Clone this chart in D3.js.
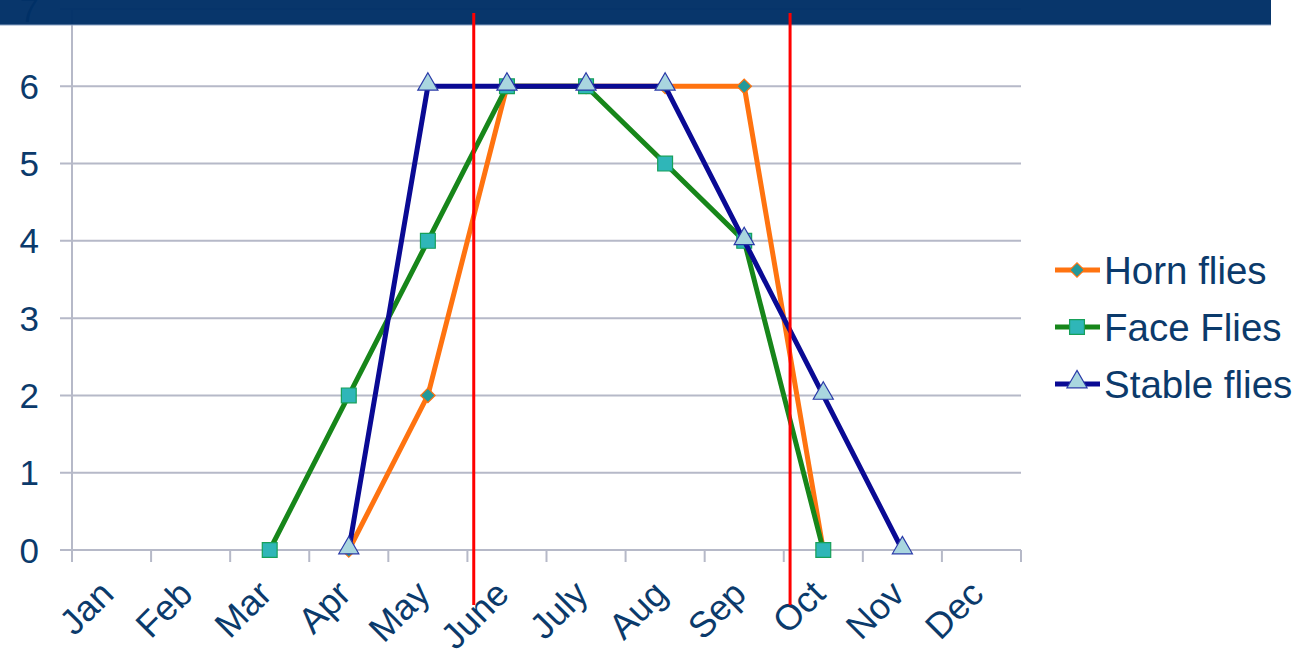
<!DOCTYPE html>
<html>
<head>
<meta charset="utf-8">
<script src="https://cdn.jsdelivr.net/npm/d3@7"></script>
<style>
  body { margin: 0; background: #fff; }
  text { font-family: "Liberation Sans", Arial, sans-serif; }
</style>
</head>
<body>
<div id="chart"></div>
<script>
// Data
var months = ["Jan", "Feb", "Mar", "Apr", "May", "June", "July", "Aug", "Sep", "Oct", "Nov", "Dec"];
var yTicks = [0, 1, 2, 3, 4, 5, 6, 7];
var hornFlies = [null, null, null, 0, 2, 6, 6, 6, 6, 0, null, null];
var faceFlies = [null, null, 0, 2, 4, 6, 6, 5, 4, 0, null, null];
var stableFlies = [null, null, null, 0, 6, 6, 6, 6, 4, 2, 0, null];
var seriesNames = ["Horn flies", "Face Flies", "Stable flies"];
// red marker lines, in month index units (Jan = 0)
var redLineMonths = [4.58, 8.58];

var width = 1307, height = 660;
var margin = {top: 9, left: 72, bottom: 110, right: 286};

var svg = d3.select("#chart")
  .append("svg")
    .attr("width", width)
    .attr("height", height);

// Scales
var x = d3.scaleBand()
    .domain(months)
    .range([margin.left, width - margin.right])
    .padding(0);
var y = d3.scaleLinear()
    .domain([0, 7])
    .range([height - margin.bottom, margin.top]);
// month index -> pixel (band centres)
var xIdx = d3.scaleLinear()
    .domain([0, 11])
    .range([x(months[0]) + x.bandwidth() / 2, x(months[11]) + x.bandwidth() / 2]);

var textColor = "#0b3a6b";
var gridColor = "#b6b9c8";

// gridlines
svg.selectAll(".hline")
  .data(yTicks)
  .enter()
    .append("line")
    .attr("class", "hline")
    .attr("x1", margin.left - 12)
    .attr("x2", width - margin.right)
    .attr("y1", function(d) { return y(d); })
    .attr("y2", function(d) { return y(d); })
    .style("stroke", gridColor)
    .style("stroke-width", 2);

// y axis line
svg.append("line")
  .attr("x1", margin.left).attr("x2", margin.left)
  .attr("y1", y(7)).attr("y2", y(0))
  .style("stroke", gridColor)
  .style("stroke-width", 2);

// x ticks at band edges
var edges = months.map(function(m) { return x(m); }).concat([x(months[11]) + x.bandwidth()]);
svg.selectAll(".xtick")
  .data(edges)
  .enter()
    .append("line")
    .attr("x1", function(d) { return d; })
    .attr("x2", function(d) { return d; })
    .attr("y1", y(0))
    .attr("y2", y(0) + 12)
    .style("stroke", gridColor)
    .style("stroke-width", 2);

// y labels
svg.selectAll(".ylab")
  .data(yTicks)
  .enter()
    .append("text")
    .attr("x", 39)
    .attr("y", function(d) { return y(d); })
    .attr("dy", "0.36em")
    .style("text-anchor", "end")
    .style("font-size", "35px")
    .style("fill", textColor)
    .text(function(d) { return d; });

// x labels, rotated
svg.selectAll(".xlab")
  .data(months)
  .enter()
    .append("text")
    .attr("transform", function(d) {
      return "translate(" + (x(d) + x.bandwidth() / 2 + 4) + "," + (y(0) + 46) + ") rotate(-45)";
    })
    .style("text-anchor", "end")
    .style("font-size", "36px")
    .style("fill", textColor)
    .text(function(d) { return d; });

var series = [
  {name: seriesNames[0], values: hornFlies, color: "#ff7310", marker: "diamond", fill: "#24999a", stroke: "#ff7310"},
  {name: seriesNames[1], values: faceFlies, color: "#17861a", marker: "square", fill: "#2fb6b8", stroke: "#17a05a"},
  {name: seriesNames[2], values: stableFlies, color: "#0a0a94", marker: "triangle", fill: "#a9d6df", stroke: "#2a3aa8"}
];

// diamond = square turned 45 degrees
var symbolType = {
  diamond: d3.symbolSquare,
  square: d3.symbolSquare,
  triangle: d3.symbolTriangle
};
var symbolSize = {diamond: 105, square: 220, triangle: 175};
var symbolRot = {diamond: 45, square: 0, triangle: 0};

var line = d3.line()
  .defined(function(d) { return d != null; })
  .x(function(d, i) { return xIdx(i); })
  .y(function(d) { return y(d); });

series.forEach(function(s) {
  var g = svg.append("g");
  g.append("path")
    .attr("d", line(s.values))
    .style("fill", "none")
    .style("stroke", s.color)
    .style("stroke-width", 5)
    .style("stroke-linejoin", "round");
  g.selectAll("path.pt")
    .data(s.values.map(function(v, i) { return {v: v, i: i}; }).filter(function(d) { return d.v != null; }))
    .enter()
      .append("path")
      .attr("class", "pt")
      .attr("transform", function(d) {
        var off = s.marker == "triangle" ? 2 : 0;
        return "translate(" + xIdx(d.i) + "," + (y(d.v) - off) + ") rotate(" + symbolRot[s.marker] + ")";
      })
      .attr("d", d3.symbol().type(symbolType[s.marker]).size(symbolSize[s.marker]))
      .style("fill", s.fill)
      .style("stroke", s.stroke)
      .style("stroke-width", 1.2);
});

// legend
var legend = svg.selectAll(".legend")
  .data(series)
  .enter()
    .append("g")
    .attr("transform", function(d, i) { return "translate(1055," + (270 + i * 57) + ")"; });
legend.append("line")
  .attr("x1", 0).attr("x2", 45)
  .attr("y1", 0).attr("y2", 0)
  .style("stroke", function(d) { return d.color; })
  .style("stroke-width", 5);
legend.append("path")
  .attr("transform", function(d) {
    return "translate(22," + (d.marker == "triangle" ? -2 : 0) + ") rotate(" + symbolRot[d.marker] + ")";
  })
  .attr("d", function(d) { return d3.symbol().type(symbolType[d.marker]).size(symbolSize[d.marker])(); })
  .style("fill", function(d) { return d.fill; })
  .style("stroke", function(d) { return d.stroke; })
  .style("stroke-width", 1.2);
legend.append("text")
  .attr("x", 49)
  .attr("y", 0)
  .attr("dy", "0.36em")
  .style("font-size", "38.5px")
  .style("fill", textColor)
  .text(function(d) { return d.name; });

// title banner (slightly see-through, as on the slide)
svg.append("rect")
  .attr("x", 0).attr("y", 0)
  .attr("width", 1271).attr("height", 25)
  .style("fill", "#003066")
  .style("opacity", 0.97);
svg.append("line")
  .attr("x1", 0).attr("x2", 1271)
  .attr("y1", 25).attr("y2", 25)
  .style("stroke", "#8aa2c4")
  .style("stroke-width", 1);

// red vertical lines
svg.selectAll(".redline")
  .data(redLineMonths)
  .enter()
    .append("line")
    .attr("x1", function(d) { return xIdx(d); })
    .attr("x2", function(d) { return xIdx(d); })
    .attr("y1", 13)
    .attr("y2", 605)
    .style("stroke", "#ff0000")
    .style("stroke-width", 3);
</script>
</body>
</html>
